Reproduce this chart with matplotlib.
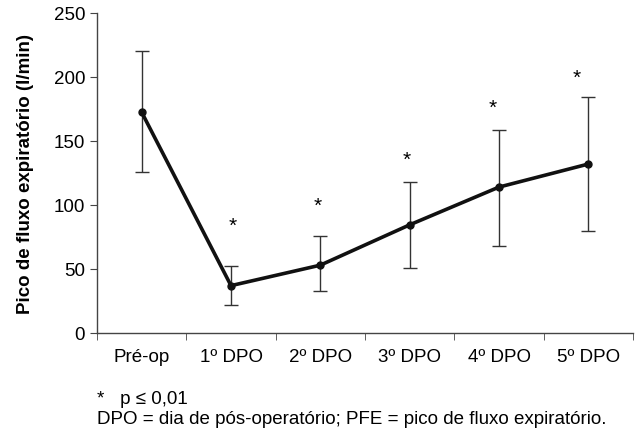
import matplotlib.pyplot as plt
import numpy as np

plt.rcParams["font.family"] = ["Liberation Sans", "DejaVu Sans"]

categories = ["Pré-op", "1º DPO", "2º DPO", "3º DPO", "4º DPO", "5º DPO"]
means = [172.5, 37, 53, 84.5, 114, 132]
upper = [220.5, 52.5, 76, 118, 158.5, 184.5]
lower = [125.5, 22, 32.5, 51, 68, 79.5]
star_heights = [None, 84, 100, 136, 176, 200]
star_shift = [0, 0.02, -0.03, -0.03, -0.07, -0.13]

x = np.arange(len(categories))
err = [np.array(means) - np.array(lower), np.array(upper) - np.array(means)]

fig = plt.figure(figsize=(6.37, 4.35), dpi=100)
ax = fig.add_axes([97 / 637, 1 - 334 / 435, 536 / 637, 320 / 435])

ax.errorbar(x, means, yerr=err, fmt="none", ecolor="#333333", elinewidth=1.0,
            capsize=5, capthick=1.0, zorder=2)
ax.plot(x, means, color="#111111", linewidth=2.6, marker="o", markersize=5, zorder=3)

for xi, h, dx in zip(x, star_heights, star_shift):
    if h is not None:
        ax.text(xi + dx, h, "*", ha="center", va="center", fontsize=15)

ax.set_xlim(-0.5, len(categories) - 0.5)
ax.set_ylim(0, 250)
ax.set_yticks([0, 50, 100, 150, 200, 250])
ax.set_xticks(x)
ax.set_xticklabels(categories)
ax.set_xticks(np.arange(-0.5, len(categories)), minor=True)
ax.tick_params(axis="x", which="major", length=0, pad=11, labelsize=13.5)
ax.tick_params(axis="x", which="minor", length=5, color="#444444")
ax.tick_params(axis="y", length=5, color="#444444", labelsize=13.5)

for side in ["top", "right"]:
    ax.spines[side].set_visible(False)
for side in ["left", "bottom"]:
    ax.spines[side].set_color("#444444")
    ax.spines[side].set_linewidth(1.0)

ax.set_ylabel("Pico de fluxo expiratório (l/min)", fontsize=13.5, fontweight="bold", labelpad=14)

fig.text(97 / 637, 1 - 400 / 435, "*   p ≤ 0,01", fontsize=13.5, va="center")
fig.text(97 / 637, 1 - 420 / 435,
         "DPO = dia de pós-operatório; PFE = pico de fluxo expiratório.",
         fontsize=13.5, va="center")

fig.savefig("out.png", dpi=100)
